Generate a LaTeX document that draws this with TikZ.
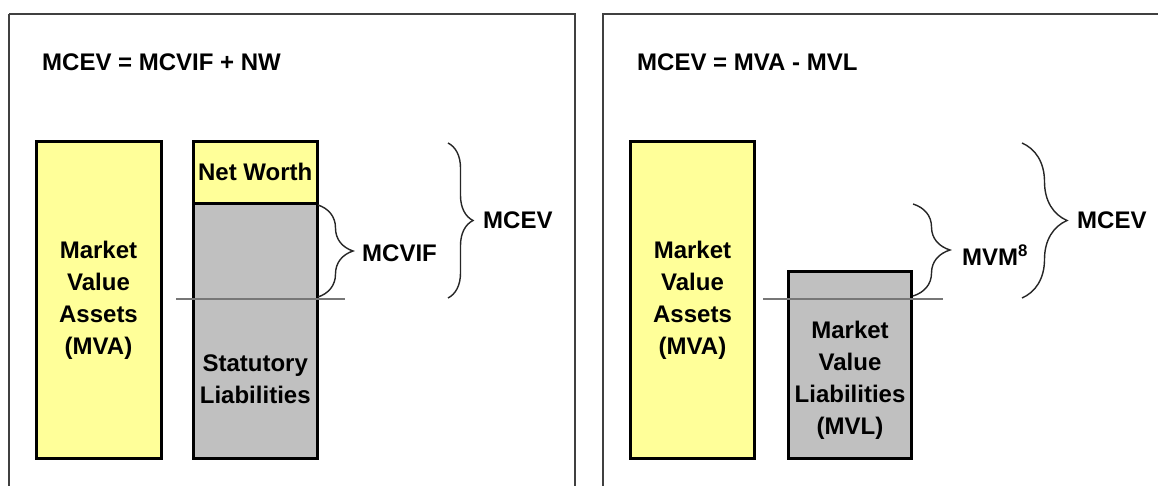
\documentclass[tikz,border=0pt]{standalone}
\usepackage{fontspec}
\setmainfont{Liberation Sans}
\usetikzlibrary{decorations.pathreplacing}
\definecolor{boxyellow}{HTML}{FFFF99}
\definecolor{boxgray}{HTML}{C0C0C0}
\definecolor{framegray}{HTML}{404040}
\definecolor{linegray}{HTML}{777777}
\tikzset{
  panel/.style={draw=framegray, line width=2pt},
  bar/.style={draw=black, line width=3pt, inner sep=0pt, outer sep=0pt},
  yellowbar/.style={bar, fill=boxyellow},
  graybar/.style={bar, fill=boxgray},
  txt/.style={font=\fontsize{24}{32}\selectfont\bfseries, align=center, inner sep=0pt},
  lbl/.style={font=\fontsize{24}{32}\selectfont\bfseries, anchor=west, inner sep=0pt},
  level/.style={draw=linegray, line width=1.5pt},
  curly/.style={draw=black!85, line width=1.4pt, decorate, decoration={brace, amplitude=#1}},
}
\begin{document}
\begin{tikzpicture}[x=1pt,y=-1pt]
\useasboundingbox (0,0) rectangle (1158,486);
\clip (0,0) rectangle (1158,486);
\fill[white] (0,0) rectangle (1158,486);
% panels
\draw[panel] (9,14) -- (575,14) -- (575,500);
\draw[panel] (9,500) -- (9,14);
\draw[panel] (1170,14) -- (603,14) -- (603,500);
% titles
\node[lbl] (titleL) at (42,62) {MCEV = MCVIF + NW};
\node[lbl] (titleR) at (637,62) {MCEV = MVA - MVL};
% left panel bars
\node[yellowbar, minimum width=125pt, minimum height=317pt] (mvaL) at (98.5,300) {};
\node[graybar, minimum width=124pt, minimum height=254.5pt] (stat) at (255.25,331.25) {};
\node[yellowbar, minimum width=124pt, minimum height=62.5pt] (nw) at (255.25,172.75) {};
\node[txt] (mvaLt) at (98.5,300) {Market\\Value\\Assets\\(MVA)};
\node[txt] (nwt) at (255.25,172) {Net Worth};
\node[txt] (statt) at (255.25,379) {Statutory\\Liabilities};
% level line left
\coordinate (lvL1) at (176,299);
\coordinate (lvL2) at (345,299);
\draw[level] (lvL1) -- (lvL2);
% braces left
\coordinate (bA1) at (318,205);
\coordinate (bA2) at (318,297);
\draw[curly=35pt] (bA1) -- (bA2);
\node[lbl] (mcvif) at (362,253) {MCVIF};
\coordinate (bB1) at (448,143);
\coordinate (bB2) at (448,298);
\draw[curly=25pt] (bB1) -- (bB2);
\node[lbl] (mcevL) at (483,220) {MCEV};
% right panel bars
\node[yellowbar, minimum width=124pt, minimum height=317pt] (mvaR) at (692.5,300) {};
\node[graybar, minimum width=123pt, minimum height=187pt] (mvl) at (850,365) {};
\node[txt] (mvaRt) at (692.5,300) {Market\\Value\\Assets\\(MVA)};
\node[txt] (mvlt) at (850,380) {Market\\Value\\Liabilities\\(MVL)};
% level line right
\coordinate (lvR1) at (763,299);
\coordinate (lvR2) at (943,299);
\draw[level] (lvR1) -- (lvR2);
% braces right
\coordinate (bC1) at (913,204);
\coordinate (bC2) at (913,296);
\draw[curly=37pt] (bC1) -- (bC2);
\node[lbl] (mvm) at (962,255) {MVM\textsuperscript{8}};
\coordinate (bD1) at (1022,143);
\coordinate (bD2) at (1022,298);
\draw[curly=45pt] (bD1) -- (bD2);
\node[lbl] (mcevR) at (1077,220) {MCEV};
\end{tikzpicture}
\end{document}
